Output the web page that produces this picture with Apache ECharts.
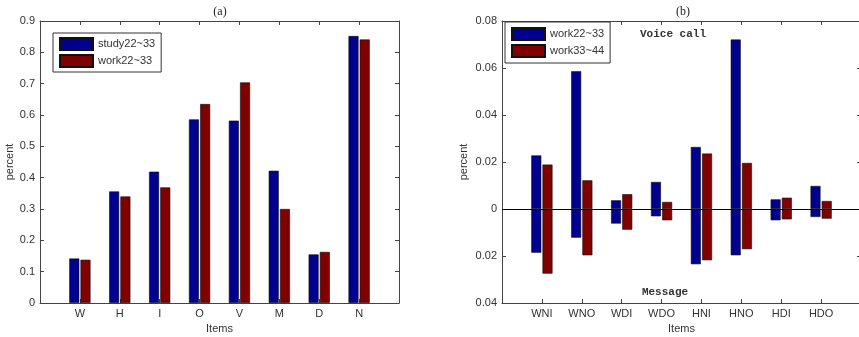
<!DOCTYPE html>
<html>
<head>
<meta charset="utf-8">
<script src="https://cdn.jsdelivr.net/npm/echarts@6/dist/echarts.min.js"></script>
<style>
html,body{margin:0;padding:0;background:#fff;}
#c{width:859px;height:337px;}
</style>
</head>
<body>
<div id="c"></div>
<script>
// ---- data ----
var catsA = ['W', 'H', 'I', 'O', 'V', 'M', 'D', 'N'];
var study2233 = [0.142, 0.356, 0.419, 0.586, 0.582, 0.422, 0.155, 0.852];
var work2233A = [0.138, 0.340, 0.369, 0.635, 0.704, 0.300, 0.163, 0.841];

var catsB = ['WNI', 'WNO', 'WDI', 'WDO', 'HNI', 'HNO', 'HDI', 'HDO'];
var voice2233 = [0.0228, 0.0586, 0.0037, 0.0115, 0.0264, 0.0721, 0.0041, 0.0098];
var msg2233   = [0.0186, 0.0122, 0.0062, 0.0031, 0.0235, 0.0197, 0.0048, 0.0034];
var voice3344 = [0.0189, 0.0122, 0.0063, 0.0030, 0.0236, 0.0196, 0.0048, 0.0034];
var msg3344   = [0.0275, 0.0197, 0.0088, 0.0048, 0.0218, 0.0171, 0.0044, 0.0041];

var yTicksA = {min: 0, max: 0.9, interval: 0.1};
var yTicksB = {min: -0.04, max: 0.08, interval: 0.02};

// ---- styles ----
var BLUE = '#00008f', RED = '#800000';
var AXC = '#444';
var FONT = 'Liberation Sans';

function toPts(vals, sign) {
  return vals.map(function (v, i) { return [i + 1, sign * v]; });
}
function catFmt(cats) {
  return function (v) {
    var k = Math.round(v);
    return (k >= 1 && k <= cats.length) ? cats[k - 1] : '';
  };
}
function xAx(grid, cats, pos) {
  return {
    type: 'value', gridIndex: grid, min: 0, max: 9, interval: 1, position: pos,
    axisLine: {show: true, onZero: false, lineStyle: {color: AXC, width: 1}},
    axisTick: {show: true, inside: true, length: 4, lineStyle: {color: AXC}},
    splitLine: {show: false},
    axisLabel: pos === 'bottom' ? {show: true, formatter: catFmt(cats), color: '#333', fontSize: 11, fontFamily: FONT, margin: 5} : {show: false},
    name: pos === 'bottom' ? 'Items' : '', nameLocation: 'middle', nameGap: 17,
    nameTextStyle: {color: '#333', fontSize: 11, fontFamily: FONT}
  };
}
function yAx(grid, t, pos, fmt, gap) {
  return {
    type: 'value', gridIndex: grid, min: t.min, max: t.max, interval: t.interval, position: pos,
    axisLine: {show: true, onZero: false, lineStyle: {color: AXC, width: 1}},
    axisTick: {show: true, inside: true, length: 4, lineStyle: {color: AXC}},
    splitLine: {show: false},
    axisLabel: pos === 'left' ? {show: true, formatter: fmt, color: '#333', fontSize: 11, fontFamily: FONT, margin: 5} : {show: false},
    name: pos === 'left' ? 'percent' : '', nameLocation: 'middle', nameGap: gap,
    nameTextStyle: {color: '#333', fontSize: 11, fontFamily: FONT}
  };
}
function barS(name, color, data, xi, yi, stack) {
  var s = {
    type: 'bar', name: name, data: data, xAxisIndex: xi, yAxisIndex: yi,
    barWidth: 10, barGap: '12%',
    itemStyle: {color: color, borderColor: '#111', borderWidth: 0.6},
    emphasis: {disabled: true}, animation: false
  };
  if (stack) s.stack = stack;
  return s;
}

var fmtA = function (v) { return String(Math.round(v * 10) / 10); };
var fmtB = function (v) { var a = Math.abs(v); return a < 1e-9 ? '0' : a.toFixed(2); };

var zeroSeries = barS('b:work22~33', BLUE, toPts(voice2233, 1), 2, 2, 'blue');
zeroSeries.markLine = {
  silent: true, symbol: 'none', animation: false,
  label: {show: false},
  lineStyle: {color: '#000', width: 1, type: 'solid'},
  data: [{yAxis: 0}]
};

var legendBase = {
  orient: 'vertical', itemWidth: 33, itemHeight: 12, itemGap: 3,
  borderColor: '#333', borderWidth: 1, backgroundColor: '#fff',
  icon: 'rect',
  textStyle: {color: '#333', fontSize: 11, fontFamily: FONT, lineHeight: 12},
  formatter: function (n) { return n.replace('b:', ''); },
  selectedMode: false
};

var option = {
  animation: false,
  backgroundColor: '#fff',
  grid: [
    {left: 40, top: 21, width: 359, height: 282, outerBoundsMode: 'none', containLabel: false},
    {left: 502, top: 21, width: 359, height: 282, outerBoundsMode: 'none', containLabel: false}
  ],
  xAxis: [xAx(0, catsA, 'bottom'), xAx(0, catsA, 'top'), xAx(1, catsB, 'bottom'), xAx(1, catsB, 'top')],
  yAxis: [yAx(0, yTicksA, 'left', fmtA, 24), yAx(0, yTicksA, 'right', fmtA, 0),
          yAx(1, yTicksB, 'left', fmtB, 33), yAx(1, yTicksB, 'right', fmtB, 0)],
  legend: [
    Object.assign({}, legendBase, {left: 53, top: 33, padding: [4, 6, 4, 6], data: ['study22~33', 'work22~33']}),
    Object.assign({}, legendBase, {left: 505, top: 22, padding: [5, 6, 5, 6], data: ['b:work22~33', 'b:work33~44']})
  ],
  series: [
    barS('study22~33', BLUE, toPts(study2233, 1), 0, 0),
    barS('work22~33', RED, toPts(work2233A, 1), 0, 0),
    zeroSeries,
    barS('b:work22~33', BLUE, toPts(msg2233, -1), 2, 2, 'blue'),
    barS('b:work33~44', RED, toPts(voice3344, 1), 2, 2, 'red'),
    barS('b:work33~44', RED, toPts(msg3344, -1), 2, 2, 'red')
  ],
  graphic: [
    {type: 'text', x: 220, y: 12, style: {text: '(a)', font: '12px "Liberation Serif"', fill: '#222', align: 'center', verticalAlign: 'middle', textAlign: 'center', textVerticalAlign: 'middle'}},
    {type: 'text', x: 683, y: 12, style: {text: '(b)', font: '12px "Liberation Serif"', fill: '#222', align: 'center', verticalAlign: 'middle', textAlign: 'center', textVerticalAlign: 'middle'}},
    {type: 'text', x: 673, y: 34, z: 10, style: {text: 'Voice call', font: 'bold 11px "Liberation Mono"', fill: '#333', align: 'center', verticalAlign: 'middle', textAlign: 'center', textVerticalAlign: 'middle'}},
    {type: 'text', x: 665, y: 292, z: 10, style: {text: 'Message', font: 'bold 11px "Liberation Mono"', fill: '#333', align: 'center', verticalAlign: 'middle', textAlign: 'center', textVerticalAlign: 'middle'}}
  ]
};

var chart = echarts.init(document.getElementById('c'), null, {renderer: 'canvas'});
chart.setOption(option);
</script>
</body>
</html>
